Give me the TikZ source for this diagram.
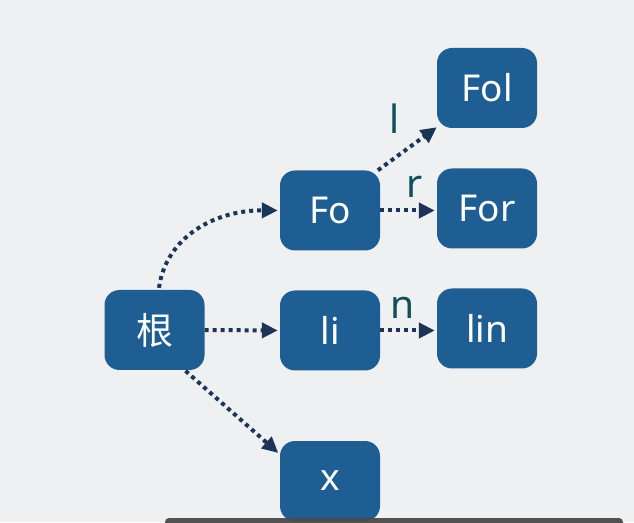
\documentclass[tikz,border=0pt]{standalone}
\usepackage{fontspec}
\setmainfont{Noto Sans}
\newfontfamily\cjk{Noto Sans CJK SC}
\usetikzlibrary{arrows.meta}
\definecolor{bgc}{HTML}{EEF0F2}
\definecolor{boxc}{HTML}{1F5E92}
\definecolor{arrc}{HTML}{1C3557}
\definecolor{lblc}{HTML}{0F4F57}
\definecolor{barc}{HTML}{4A4A4A}
\tikzset{
  trienode/.style={draw=none, fill=boxc, rounded corners=15pt, minimum width=100pt,
    minimum height=80pt, text=white, font=\fontsize{37}{40}\selectfont, inner sep=0pt},
  link/.style={draw=arrc, line width=4pt, dash pattern=on 4pt off 4pt,
    -{Triangle[length=16pt,width=15pt]}, shorten >=2pt},
  edgelbl/.style={text=lblc, font=\fontsize{39}{42}\selectfont, inner sep=0pt}
}
\begin{document}
\begin{tikzpicture}[x=1pt,y=1pt]
\useasboundingbox (0,0) rectangle (634,522);
\fill[bgc] (0,0) rectangle (634,522);
\node[trienode] (root) at (154.5,192) {\cjk 根};
\node[trienode] (Fo) at (330,311.5) {Fo};
\node[trienode] (li) at (330,191.5) {li};
\node[trienode] (x) at (330,41) {x};
\node[trienode] (Fol) at (487,434) {Fol};
\node[trienode] (For) at (487,313.5) {For};
\node[trienode] (lin) at (487,193.5) {lin};
\coordinate (rootTop) at ([xshift=4.5pt,yshift=2pt]root.north);
\draw[link] (rootTop) .. controls (166,285) and (215,312) .. (Fo.west);
\draw[link] (root.east) -- (li.west);
\draw[link, shorten <=1pt] (root.307) -- (x.152.5);
\draw[link, shorten >=0pt] (Fo.40) -- (Fol.218)
  node[edgelbl, pos=0.29, above=22pt] (lblL) {l};
\draw[link] (Fo.east) -- (Fo.east -| For.west)
  node[edgelbl, pos=0.6, above=11pt] (lblR) {r};
\draw[link] (li.east) -- (li.east -| lin.west)
  node[edgelbl, pos=0.4, above=10pt] (lblN) {n};
\begin{scope}
\clip (0,0) rectangle (634,522);
\fill[barc, opacity=0.95, rounded corners=4pt] (165,-10) rectangle (623,4);
\end{scope}
\end{tikzpicture}
\end{document}
